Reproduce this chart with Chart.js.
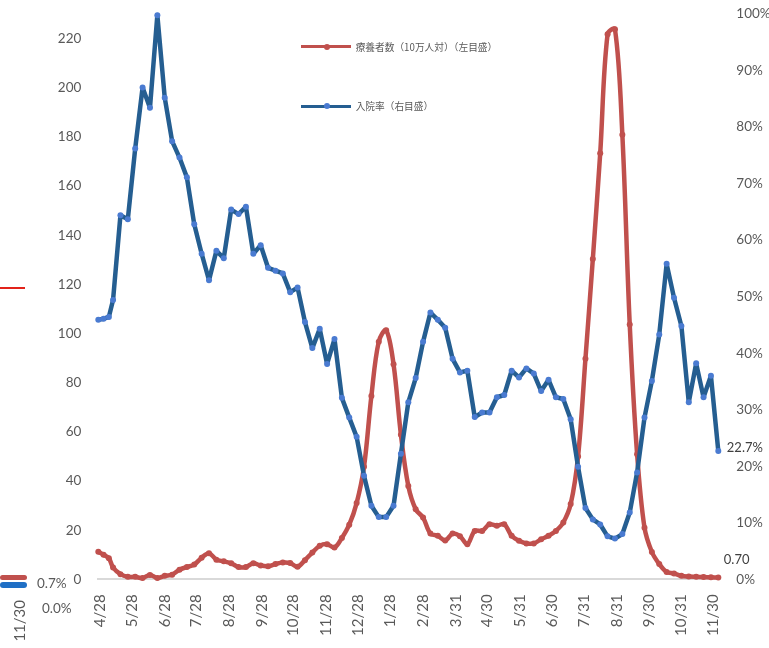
<!DOCTYPE html>
<html>
<head>
<meta charset="utf-8">
<script src="https://cdn.jsdelivr.net/npm/chart.js@4.4.1/dist/chart.umd.min.js"></script>
<style>
html,body{margin:0;padding:0;background:#fff;}
#wrap{position:relative;width:769px;height:648px;overflow:hidden;background:#fff;}
#c{position:absolute;left:0;top:0;}
.lg{position:absolute;height:20px;}
.lg .ln{position:absolute;left:0;top:8.5px;width:50px;height:3px;}
.lg .dt{position:absolute;left:23px;top:7px;width:6px;height:6px;border-radius:50%;}
.lg .tx{position:absolute;left:55px;top:0;line-height:20px;font-family:"Noto Sans CJK JP","Noto Sans";font-size:9.7px;color:#595959;white-space:nowrap;}
.frag{position:absolute;font-family:Lato,"Open Sans";font-size:13.5px;color:#595959;white-space:nowrap;line-height:16px;}
</style>
</head>
<body>
<div id="wrap">
<canvas id="c" width="769" height="648"></canvas>
<div id="legend"></div>
<!-- fragments of a neighbouring chart visible at the left edge -->
<div style="position:absolute;left:0;top:287px;width:25px;height:2px;background:#e2231a;"></div>
<div style="position:absolute;left:0;top:575px;width:27px;height:5px;border-radius:3px;background:#c0504d;"></div>
<div style="position:absolute;left:0;top:582px;width:27px;height:6px;border-radius:3px;background:#1f6fc5;"></div>
<div class="frag" style="left:37px;top:575px;">0.7%</div>
<div class="frag" style="left:42px;top:600px;">0.0%</div>
<div class="frag" style="left:11px;top:600px;font-size:15px;writing-mode:vertical-rl;transform:rotate(180deg);">11/30</div>
</div>
<script>
// weekly observation dates
const dates = [
 '2020-04-26','2020-05-01','2020-05-06','2020-05-10','2020-05-17','2020-05-24','2020-05-31','2020-06-07','2020-06-14','2020-06-21',
 '2020-06-28','2020-07-05','2020-07-12','2020-07-19','2020-07-26','2020-08-02','2020-08-09','2020-08-16','2020-08-23','2020-08-30',
 '2020-09-06','2020-09-13','2020-09-20','2020-09-27','2020-10-04','2020-10-11','2020-10-18','2020-10-25','2020-11-01','2020-11-08',
 '2020-11-15','2020-11-22','2020-11-29','2020-12-06','2020-12-13','2020-12-20','2020-12-27','2021-01-03','2021-01-10','2021-01-17',
 '2021-01-24','2021-01-31','2021-02-07','2021-02-14','2021-02-21','2021-02-28','2021-03-07','2021-03-14','2021-03-21','2021-03-28',
 '2021-04-04','2021-04-11','2021-04-18','2021-04-25','2021-05-02','2021-05-09','2021-05-16','2021-05-23','2021-05-30','2021-06-06',
 '2021-06-13','2021-06-20','2021-06-27','2021-07-04','2021-07-11','2021-07-18','2021-07-25','2021-08-01','2021-08-08','2021-08-15',
 '2021-08-22','2021-08-29','2021-09-05','2021-09-12','2021-09-19','2021-09-26','2021-10-03','2021-10-10','2021-10-17','2021-10-24',
 '2021-10-31','2021-11-07','2021-11-14','2021-11-21','2021-11-28','2021-12-05'
];
// 療養者数（10万人対） left axis
const patients = [
 11.2,10.0,8.6,4.8,2.1,1.0,1.0,0.5,1.8,0.5,
 1.4,1.9,3.9,5.0,6.0,8.8,10.6,8.0,7.3,6.5,
 5.0,5.0,6.5,5.6,5.3,6.2,6.8,6.6,5.1,7.8,
 10.9,13.6,14.3,12.9,16.8,22.2,31.0,45.8,74.6,96.7,
 101.3,87.5,58.8,38.0,28.5,25.1,18.6,17.7,15.8,18.6,
 17.5,14.3,19.7,19.7,22.4,21.8,22.4,17.7,15.7,14.6,
 14.6,16.3,17.7,19.7,23.1,30.6,50.0,89.7,130.3,173.3,
 221.8,223.8,180.9,103.7,50.9,21.0,11.1,6.2,3.0,2.4,
 1.4,1.1,1.0,0.9,0.8,0.70
];
// 入院率 (%) right axis
const hospRate = [
 45.9,46.1,46.4,49.4,64.4,63.7,76.2,87.0,83.4,99.8,
 85.2,77.5,74.6,71.1,62.8,57.6,52.9,58.1,56.8,65.4,
 64.6,65.9,57.6,59.1,55.1,54.6,54.1,50.8,51.6,45.5,
 40.9,44.3,38.1,42.5,32.1,28.6,25.2,18.3,13.0,11.0,
 11.0,13.0,22.2,31.3,35.6,42.0,47.2,45.9,44.5,39.0,
 36.6,36.9,28.7,29.5,29.5,32.2,32.6,36.9,35.7,37.3,
 36.4,33.3,35.3,32.2,31.9,28.3,19.9,12.6,10.6,9.7,
 7.6,7.2,8.0,11.8,18.9,28.6,35.1,43.3,55.8,49.8,
 44.8,31.3,38.2,32.2,36.0,22.7
];
// x-axis tick dates and labels
const tickDates = ['2020-04-28','2020-05-28','2020-06-28','2020-07-28','2020-08-28','2020-09-28','2020-10-28','2020-11-28','2020-12-28',
 '2021-01-28','2021-02-28','2021-03-31','2021-04-30','2021-05-31','2021-06-30','2021-07-31','2021-08-31','2021-09-30','2021-10-31','2021-11-30'];
const tickLabels = ['4/28','5/28','6/28','7/28','8/28','9/28','10/28','11/28','12/28','1/28','2/28','3/31','4/30','5/31','6/30','7/31','8/31','9/30','10/31','11/30'];
const seriesNames = ['療養者数（10万人対）（左目盛）','入院率（右目盛）'];

const ORIGIN = Date.UTC(2020,3,28);
function dayOf(s){const p=s.split('-').map(Number);return Math.round((Date.UTC(p[0],p[1]-1,p[2])-ORIGIN)/86400000);}
const xs = dates.map(dayOf);
const tickDays = tickDates.map(dayOf);

const RED='#c0504d', BLUE_LINE='#255e91', BLUE_PT='#4a7bd1';
const FONT='Lato, "Open Sans", sans-serif';
const AREA={left:98.3,right:718.3,top:14,bottom:579.3};

const lastLabels = {
  id:'lastLabels',
  afterDatasetsDraw(chart){
    const ctx=chart.ctx;
    ctx.save();
    ctx.font='13px '+FONT;
    ctx.fillStyle='#404040';
    ctx.textAlign='left';ctx.textBaseline='middle';
    const pb=chart.getDatasetMeta(0).data; const b=pb[pb.length-1];
    ctx.fillText(hospRate[hospRate.length-1].toFixed(1)+'%', b.x+8.5, b.y-3.5);
    const pr=chart.getDatasetMeta(1).data; const r=pr[pr.length-1];
    ctx.fillText(patients[patients.length-1].toFixed(2), r.x+5.5, r.y-17.5);
    ctx.restore();
  }
};

const chart = new Chart(document.getElementById('c'), {
  type:'line',
  data:{datasets:[
    {label:seriesNames[1], data:xs.map((x,i)=>({x:x,y:hospRate[i]})), yAxisID:'y1',
     borderColor:BLUE_LINE, backgroundColor:BLUE_PT, pointBackgroundColor:BLUE_PT, pointBorderWidth:0,
     pointRadius:3, borderWidth:4.5, tension:0, order:0, clip:false, borderJoinStyle:'round', borderCapStyle:'round'},
    {label:seriesNames[0], data:xs.map((x,i)=>({x:x,y:patients[i]})), yAxisID:'y',
     borderColor:RED, backgroundColor:RED, pointBackgroundColor:RED, pointBorderWidth:0,
     pointRadius:3, borderWidth:4.5, tension:0.35, order:1, clip:false, borderJoinStyle:'round', borderCapStyle:'round'}
  ]},
  options:{
    responsive:false, animation:false, devicePixelRatio:1,
    layout:{padding:{top:AREA.top,left:0,right:0,bottom:0}},
    plugins:{legend:{display:false}, tooltip:{enabled:false}},
    scales:{
      x:{type:'linear', min:xs[0], max:xs[xs.length-1],
         grid:{display:false, drawTicks:false},
         border:{display:true, color:'#d9d9d9', width:2},
         afterBuildTicks:(s)=>{s.ticks=tickDays.map(v=>({value:v}));},
         ticks:{autoSkip:false, minRotation:90, maxRotation:90, padding:15, color:'#595959',
                font:{family:FONT, size:15},
                callback:(v)=>{const k=tickDays.indexOf(v);return k>=0?tickLabels[k]:'';}},
         afterFit:(s)=>{s.height=648-AREA.bottom;}},
      y:{position:'left', min:0, max:230,
         grid:{display:false, drawTicks:false}, border:{display:false},
         ticks:{stepSize:20, includeBounds:false, padding:17, color:'#595959', font:{family:FONT, size:13.5}},
         afterFit:(s)=>{s.width=AREA.left; s.paddingTop=0; s.paddingBottom=0;}},
      y1:{position:'right', min:0, max:100,
         grid:{display:false, drawTicks:false}, border:{display:false},
         ticks:{stepSize:10, includeBounds:false, padding:18, color:'#595959', font:{family:FONT, size:13.5},
                callback:(v)=>v+'%'},
         afterFit:(s)=>{s.width=769-AREA.right; s.paddingTop=0; s.paddingBottom=0;}}
    }
  },
  plugins:[lastLabels]
});

// legend built from dataset info
const legendPos=[{ds:1,left:300.7,top:36.5},{ds:0,left:300.7,top:96}];
const lg=document.getElementById('legend');
legendPos.forEach(p=>{
  const d=chart.data.datasets[p.ds];
  const el=document.createElement('div');el.className='lg';el.style.left=p.left+'px';el.style.top=p.top+'px';
  el.innerHTML='<div class="ln" style="background:'+d.borderColor+'"></div><div class="dt" style="background:'+d.pointBackgroundColor+'"></div><div class="tx"></div>';
  el.querySelector('.tx').textContent=d.label;
  lg.appendChild(el);
});
</script>
</body>
</html>
